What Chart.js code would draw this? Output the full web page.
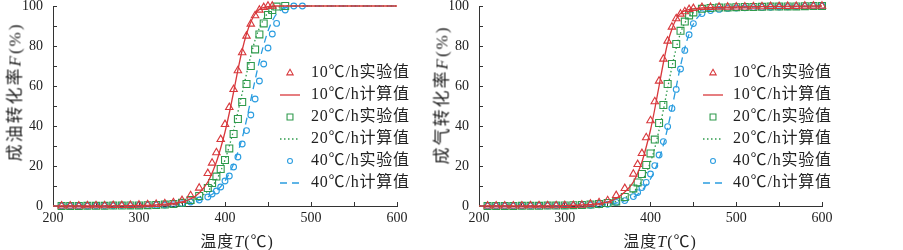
<!DOCTYPE html>
<html lang="zh">
<head>
<meta charset="utf-8">
<script src="https://cdn.jsdelivr.net/npm/chart.js@4.4.1/dist/chart.umd.min.js"></script>
<style>
  html, body { margin: 0; padding: 0; background: #fff; width: 903px; height: 250px; overflow: hidden; position: relative; }
  .panel { position: absolute; top: -20px; }
  #oilChart { left: 0; }
  #gasChart { left: 450px; }
  .title { position: absolute; font-family: "Liberation Serif", "Noto Sans CJK SC", serif; font-size: 16px; color: #222;
           white-space: nowrap; transform: translate(-50%, -50%); letter-spacing: 1px; }
  .ytitle { transform: translate(-50%, -50%) rotate(-90deg); font-size: 17px; letter-spacing: 2px; }
</style>
</head>
<body>
<canvas id="oilChart" class="panel" width="450" height="270"></canvas>
<canvas id="gasChart" class="panel" width="453" height="270"></canvas>
<div class="title ytitle" style="left:13px; top:92px">成油转化率<i>F</i>(%)</div>
<div class="title ytitle" style="left:440px; top:95px">成气转化率<i>F</i>(%)</div>
<div class="title" style="left:237px; top:240px">温度<i>T</i>(℃)</div>
<div class="title" style="left:660px; top:240px">温度<i>T</i>(℃)</div>
<script>
// --- DATA: oil conversion (left) ---
const oilExp10T = [210,220,230,240,250,260,270,280,290,300,310,320,330,340,350,360,370,380,385,390,395,400,405,410,415,420,425,430,435,440,445,450,455];
const oilExp10F = [0.1,0.1,0.1,0.2,0.2,0.2,0.3,0.3,0.4,0.5,0.7,0.9,1.2,1.7,2.8,5.2,9.0,16.3,21.5,26.7,33.3,40.8,49.3,58.3,67.7,76.7,85.0,91.0,95.2,98.0,99.3,100,100];
const oilExp20T = [210,220,230,240,250,260,270,280,290,300,310,320,330,340,350,360,370,380,385,390,395,400,405,410,415,420,425,430,435,440,445,450,455,460,470];
const oilExp20F = [0,0,0,0.1,0.1,0.1,0.2,0.2,0.3,0.3,0.4,0.5,0.7,1.0,1.6,3.0,5.0,9.0,11.5,14.7,18.5,23.0,28.8,36.0,43.5,52.0,61.0,70.0,78.3,85.8,91.3,95.5,98.0,99.7,100];
const oilExp40T = [210,220,230,240,250,260,270,280,290,300,310,320,330,340,350,360,370,380,385,390,395,400,405,410,415,420,425,430,435,440,445,450,455,460,470,480,490];
const oilExp40F = [0,0,0,0,0.1,0.1,0.1,0.2,0.2,0.3,0.3,0.4,0.5,0.7,1.2,2.0,3.0,4.5,6.0,7.5,9.5,12.5,15.0,19.5,24.5,31.0,37.7,45.5,53.5,62.5,71.0,79.0,86.0,91.3,98.0,100,100];

const oilCalc10T = [200,250,300,320,340,350,360,370,380,390,395,400,405,410,415,420,425,430,435,440,450,460,500,600];
const oilCalc10F = [0,0,0.3,0.6,1.3,2.0,3.5,6.5,12,22,29,37,46.5,57,68,78,86,92,96,98.3,99.7,100,100,100];
const oilCalc20T = [200,250,300,320,340,350,360,370,380,390,395,400,405,410,415,420,425,430,435,440,445,450,455,460,470,500,600];
const oilCalc20F = [0,0,0.2,0.4,1.0,1.5,2.5,4.3,7.5,13,17.5,23,30,38,47,56.5,66,75,83,89,93.5,96.5,98.3,99.2,100,100,100];
const oilCalc40T = [200,250,300,320,340,350,360,370,380,390,400,405,410,415,420,425,430,435,440,445,450,455,460,470,480,500,600];
const oilCalc40F = [0,0,0.1,0.3,0.7,1.0,1.7,2.8,4.5,7.5,12.5,16.5,21,27,34,43,53,63,72.5,80.5,87.5,92.5,96,99,100,100,100];

// --- DATA: gas conversion (right) ---
const gasExpT = [210,220,230,240,250,260,270,280,290,300,310,320,330,340,350,360,370,380,385,390,395,400,405,410,415,420,425,430,435,440,445,450,460,470,480,490,500,510,520,530,540,550,560,570,580,590,600];
const gasExp10F = [0.1,0.1,0.1,0.1,0.1,0.2,0.2,0.2,0.2,0.3,0.3,0.5,1.0,1.7,2.7,5.3,8.8,16,20.8,26.3,34.2,42.7,52.2,62.5,73.5,82.5,89.5,93.7,96,97.2,98.3,98.8,99.3,99.4,99.5,99.5,99.6,99.6,99.7,99.7,99.8,99.8,99.9,99.9,100,100,100];
const gasExp20F = [0,0,0,0,0.1,0.1,0.1,0.2,0.2,0.3,0.4,0.5,0.7,1.0,1.5,2.2,4.5,8.8,11.8,16,20.5,26.3,33.2,41.5,50.5,61,71,81,87.6,92.2,95.3,96.8,98.6,99,99.2,99.3,99.4,99.5,99.5,99.6,99.7,99.7,99.8,99.8,99.9,100,100];
const gasExp40F = [0,0,0,0,0,0.1,0.1,0.1,0.2,0.2,0.2,0.3,0.4,0.6,0.9,1.8,2.7,4.7,6.7,9.2,11.8,16,20.2,25.5,32.2,39.7,48.8,58.3,68.5,77.8,85.6,91.2,96.2,97.7,98.3,98.8,99,99.1,99.2,99.3,99.4,99.5,99.6,99.7,99.8,99.9,100];

const gasCalc10T = [200,250,300,320,340,350,360,370,380,390,395,400,405,410,415,420,425,430,435,440,450,460,480,500,550,600];
const gasCalc10F = [0,0,0.2,0.5,1.2,2.0,3.8,7,12,22,29.5,38,48.5,60,71.5,81.5,88.5,93.5,96.3,97.7,98.6,99,99.3,99.5,99.8,100];
const gasCalc20T = [200,250,300,320,340,350,360,370,380,390,395,400,405,410,415,420,425,430,435,440,445,450,460,480,500,550,600];
const gasCalc20F = [0,0,0.1,0.3,0.8,1.3,2.3,4,7,12.5,16.5,22,29,38,48,59,69.5,79,86.5,91.5,94.8,96.6,98.2,99,99.3,99.7,100];
const gasCalc40T = [200,250,300,320,340,350,360,370,380,390,400,405,410,415,420,425,430,435,440,445,450,455,460,470,480,500,550,600];
const gasCalc40F = [0,0,0.1,0.2,0.5,0.9,1.5,2.5,4.3,7.8,13.5,18,23.5,30.5,39,49,59.5,70,79,86,91,94.3,96.3,98,98.7,99.2,99.6,100];

const seriesLabels = ['10℃/h实验值', '10℃/h计算值', '20℃/h实验值', '20℃/h计算值', '40℃/h实验值', '40℃/h计算值'];
const xTicks = [200, 300, 400, 500, 600];
const yTicks = [0, 20, 40, 60, 80, 100];

// --- STYLE ---
const RED = '#d8383c', GREEN = '#2f9a4c', BLUE = '#2b9de0', AXIS = '#333';
const SERIF = '"Liberation Serif", "Noto Sans CJK SC", serif';

function pts(xs, ys) {
  return xs.map((x, i) => ({ x: x, y: ys[i] }));
}

function expSet(label, xs, ys, color, style, radius) {
  return {
    label, data: pts(xs, ys), showLine: false,
    borderColor: color, backgroundColor: 'rgba(0,0,0,0)',
    pointStyle: style, pointRadius: radius, pointHoverRadius: radius,
    pointBorderWidth: 1.1, clip: false
  };
}

function calcSet(label, xs, ys, color, dash) {
  return {
    label, data: pts(xs, ys), showLine: true,
    borderColor: color, borderWidth: 1.3, borderDash: dash,
    pointRadius: 0, cubicInterpolationMode: 'monotone', fill: false, clip: false
  };
}

// legend drawn inside the plot, built from the datasets
const sideLegend = {
  id: 'sideLegend',
  afterDatasetsDraw(chart, args, opts) {
    const ctx = chart.ctx;
    ctx.save();
    chart.data.datasets.forEach((ds, i) => {
      const cy = opts.y + i * opts.gap;
      ctx.strokeStyle = ds.borderColor;
      ctx.fillStyle = 'rgba(0,0,0,0)';
      if (ds.showLine) {
        ctx.lineWidth = ds.borderWidth;
        ctx.setLineDash(ds.borderDash || []);
        ctx.beginPath();
        ctx.moveTo(opts.x - 10, cy);
        ctx.lineTo(opts.x + 10, cy);
        ctx.stroke();
        ctx.setLineDash([]);
      } else {
        ctx.lineWidth = ds.pointBorderWidth;
        Chart.helpers.drawPoint(ctx, {
          pointStyle: ds.pointStyle, radius: ds.pointRadius * 0.85,
          rotation: 0, borderWidth: ds.pointBorderWidth
        }, opts.x, cy);
      }
      ctx.fillStyle = '#222';
      ctx.font = '16px ' + SERIF;
      ctx.letterSpacing = '0.8px';
      ctx.textBaseline = 'middle';
      ctx.textAlign = 'left';
      ctx.fillText(ds.label, opts.x + opts.textGap, cy);
      ctx.letterSpacing = '0px';
    });
    ctx.restore();
  }
};

function makeOptions(axisWidth, padRight, legendX, textGap) {
  return {
    responsive: false,
    animation: false,
    events: [],
    layout: { padding: { left: 0, right: padRight, top: 26, bottom: 0 } },
    scales: {
      x: {
        type: 'linear', min: 200, max: 600,
        afterFit: s => { s.height = 44; },
        grid: { drawOnChartArea: false, tickLength: -4, color: AXIS },
        border: { color: AXIS, width: 1 },
        ticks: {
          stepSize: 50, padding: 8, autoSkip: false, maxRotation: 0,
          color: '#222', font: { family: SERIF, size: 14 },
          callback: v => xTicks.includes(v) ? v : ''
        }
      },
      y: {
        type: 'linear', min: 0, max: 100,
        afterFit: s => { s.width = axisWidth; },
        grid: { drawOnChartArea: false, tickLength: -4, color: AXIS },
        border: { color: AXIS, width: 1 },
        ticks: {
          stepSize: 10, padding: 14, autoSkip: false,
          color: '#222', font: { family: SERIF, size: 14 },
          callback: v => yTicks.includes(v) ? v : ''
        }
      }
    },
    plugins: {
      legend: { display: false },
      tooltip: { enabled: false },
      sideLegend: { x: legendX, y: 93, gap: 22, textGap: textGap }
    }
  };
}

new Chart(document.getElementById('oilChart'), {
  type: 'scatter',
  data: {
    datasets: [
      expSet(seriesLabels[0], oilExp10T, oilExp10F, RED, 'triangle', 4.3),
      calcSet(seriesLabels[1], oilCalc10T, oilCalc10F, RED, []),
      expSet(seriesLabels[2], oilExp20T, oilExp20F, GREEN, 'rect', 4.9),
      calcSet(seriesLabels[3], oilCalc20T, oilCalc20F, GREEN, [1.5, 2.5]),
      expSet(seriesLabels[4], oilExp40T, oilExp40F, BLUE, 'circle', 2.9),
      calcSet(seriesLabels[5], oilCalc40T, oilCalc40F, BLUE, [7, 5])
    ]
  },
  options: makeOptions(53, 53, 290, 21),
  plugins: [sideLegend]
});

new Chart(document.getElementById('gasChart'), {
  type: 'scatter',
  data: {
    datasets: [
      expSet(seriesLabels[0], gasExpT, gasExp10F, RED, 'triangle', 4.3),
      calcSet(seriesLabels[1], gasCalc10T, gasCalc10F, RED, []),
      expSet(seriesLabels[2], gasExpT, gasExp20F, GREEN, 'rect', 4.9),
      calcSet(seriesLabels[3], gasCalc20T, gasCalc20F, GREEN, [1.5, 2.5]),
      expSet(seriesLabels[4], gasExpT, gasExp40F, BLUE, 'circle', 2.9),
      calcSet(seriesLabels[5], gasCalc40T, gasCalc40F, BLUE, [7, 5])
    ]
  },
  options: makeOptions(29, 81, 263, 20),
  plugins: [sideLegend]
});
</script>
</body>
</html>
